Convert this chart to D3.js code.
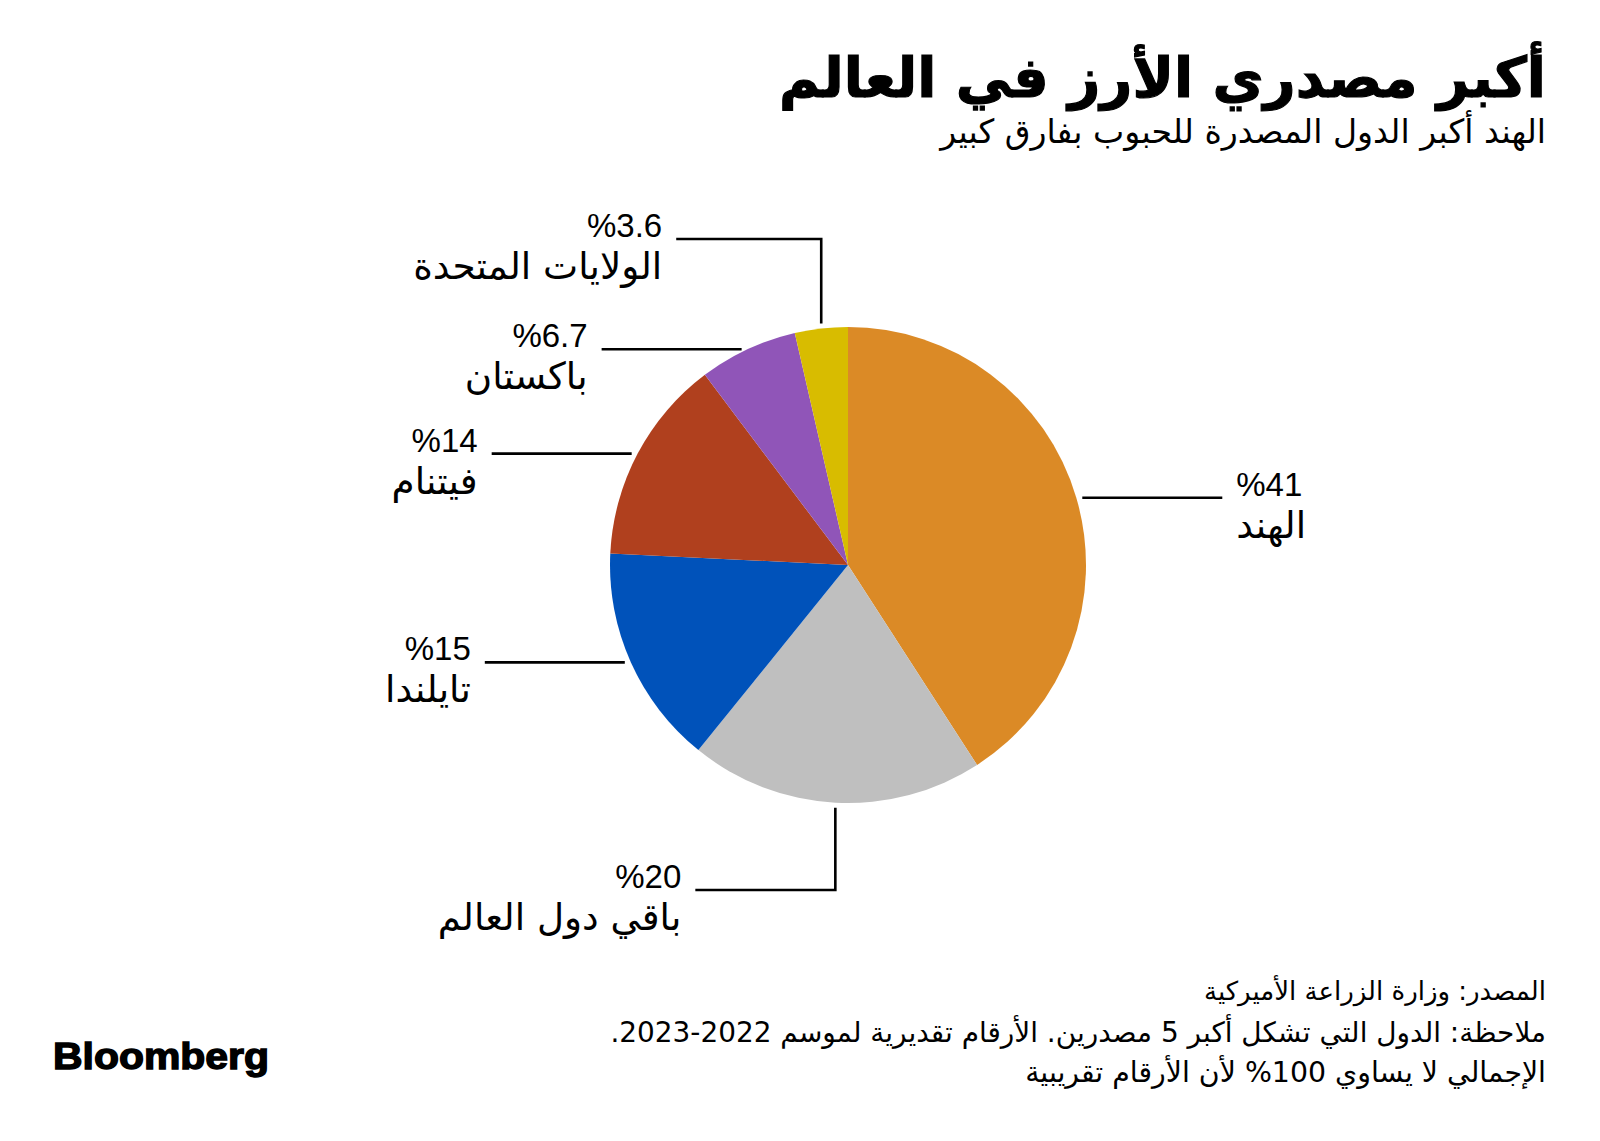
<!DOCTYPE html>
<html><head><meta charset="utf-8">
<script src="https://cdn.jsdelivr.net/npm/d3@7"></script>
<style>body{margin:0;background:#fff;} svg{display:block}</style>
</head><body>
<svg id="chart" width="1600" height="1141"></svg>
<script>
// ---- data ----
const categories = ["الهند", "باقي دول العالم", "تايلندا", "فيتنام", "باكستان", "الولايات المتحدة"];
const shares = [41, 20, 15, 14, 6.7, 3.6];
const shareLabels = ["%41", "%20", "%15", "%14", "%6.7", "%3.6"];
const colors = ["#DB8A26", "#BFBFBF", "#0052BA", "#B0401E", "#9055B8", "#D8BC00"];
const titleText = "أكبر مصدري الأرز في العالم";
const subtitleText = "الهند أكبر الدول المصدرة للحبوب بفارق كبير";
const footnotes = [
  "المصدر: وزارة الزراعة الأميركية",
  "ملاحظة: الدول التي تشكل أكبر 5 مصدرين. الأرقام تقديرية لموسم 2022\u20102023.",
  "الإجمالي لا يساوي 100% لأن الأرقام تقريبية"
];

// ---- layout ----
const W = 1600, H = 1141;
const cx = 848, cy = 565, R = 238;
const RIGHT = 1546;
const ARFONT = "'DejaVu Sans', sans-serif";
const LABFONT = "'Liberation Sans', 'DejaVu Sans', sans-serif";
const leader = [
  {kind: "h"},
  {kind: "down", y: 890},
  {kind: "h"},
  {kind: "h"},
  {kind: "h"},
  {kind: "up", y: 239}
];
const LINE_LEN = 140, GAP = 6, TXT_GAP = 14;

const svg = d3.select("#chart");
svg.append("rect").attr("width", W).attr("height", H).attr("fill", "#fff");

function fit(sel, target) {
  const node = sel.node();
  const fs = parseFloat(sel.attr("font-size"));
  const w = node.getComputedTextLength();
  if (w > 0) sel.attr("font-size", (fs * target / w).toFixed(2));
  return sel;
}

function arText(x, y, txt, size, weight, anchorRight = true) {
  return svg.append("text")
    .attr("x", x).attr("y", y)
    .attr("direction", "rtl")
    .style("direction", "rtl").style("unicode-bidi", "embed")
    .attr("text-anchor", anchorRight ? "start" : "end")
    .attr("font-family", ARFONT)
    .attr("font-size", size)
    .attr("font-weight", weight)
    .attr("fill", "#000")
    .text(txt);
}

// title & subtitle
fit(arText(RIGHT, 97, titleText, 62, 700), 767)
  .attr("stroke", "#000").attr("stroke-width", 1.2);
fit(arText(RIGHT, 143, subtitleText, 30, 400), 606);

// pie
const pie = d3.pie().sort(null).value(d => d)(shares);
const arc = d3.arc().innerRadius(0).outerRadius(R);
const g = svg.append("g").attr("transform", `translate(${cx},${cy})`);
g.selectAll("path").data(pie).join("path")
  .attr("d", arc)
  .attr("fill", (d, i) => colors[i]);

// leaders & labels
const lines = svg.append("g").attr("stroke", "#000").attr("stroke-width", 2.6).attr("fill", "none");
const nameNodes = [];
pie.forEach((d, i) => {
  const a = (d.startAngle + d.endAngle) / 2;
  const px = cx + R * Math.sin(a), py = cy - R * Math.cos(a);
  const L = leader[i];
  let endX, lineY, side;
  if (L.kind === "h") {
    side = Math.sin(a) >= 0 ? 1 : -1;
    const x0 = px + side * GAP;
    endX = x0 + side * LINE_LEN;
    lineY = py;
    lines.append("path").attr("d", d3.line()([[x0, py], [endX, py]]));
  } else {
    side = -1;
    const y0 = L.kind === "up" ? py - 5 : py + 5;
    lineY = L.y;
    endX = px - (L.kind === "up" ? 145 : 140);
    lines.append("path").attr("d", d3.line()([[px, y0], [px, L.y], [endX, L.y]]));
  }
  const tx = endX + side * TXT_GAP;
  svg.append("text")
    .attr("x", tx).attr("y", lineY - 2)
    .attr("text-anchor", side > 0 ? "start" : "end")
    .attr("font-family", LABFONT).attr("font-size", 33)
    .attr("fill", "#000")
    .text(shareLabels[i]);
  const nm = arText(tx, lineY + 40, categories[i], 28, 400, side < 0);
  nameNodes.push(nm);
});
const nameTargets = [70, 250, 87, 91, 115, 240];
let ratio = 0;
nameNodes.forEach((n, i) => { ratio += nameTargets[i] / n.node().getComputedTextLength(); });
ratio /= nameNodes.length;
nameNodes.forEach(n => n.attr("font-size", (28 * ratio).toFixed(2)));

// footnotes
const footY = [1000, 1042, 1082];
const footW = [342, 936, 521];
footnotes.forEach((t, i) => fit(arText(RIGHT, footY[i], t, 24, 400), footW[i]));

// logo
svg.append("text")
  .attr("x", 53).attr("y", 1069)
  .attr("font-family", "'Liberation Sans', Arial, sans-serif")
  .attr("font-weight", 700).attr("font-size", 37)
  .attr("textLength", 216).attr("lengthAdjust", "spacingAndGlyphs")
  .attr("fill", "#000").attr("stroke", "#000").attr("stroke-width", 1.4)
  .text("Bloomberg");
</script>
</body></html>
